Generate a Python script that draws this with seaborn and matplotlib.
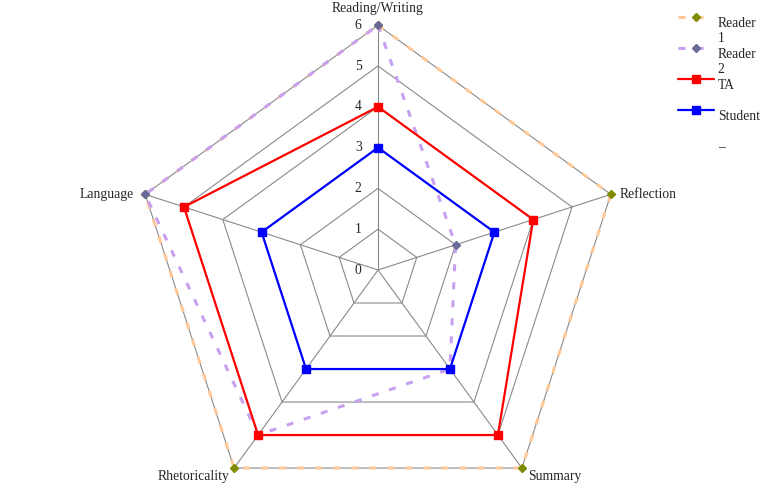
import numpy as np
import pandas as pd
import matplotlib
matplotlib.use("Agg")
import matplotlib.pyplot as plt
from matplotlib.lines import Line2D
from matplotlib.legend_handler import HandlerLine2D
import seaborn as sns

# --- data ---------------------------------------------------------------
axes_labels = ["Reading/Writing", "Reflection", "Summary", "Rhetoricality", "Language"]
ring_levels = [0, 1, 2, 3, 4, 5, 6]
reader1 = [6, 6, 6, 6, 6]
reader2 = [6, 2, 3, 5, 6]
ta = [4, 4, 5, 5, 5]
student = [3, 3, 3, 3, 3]
series_names = ["Reader\n1", "Reader\n2", "TA", "Student"]

sns.set_theme(style="white")
plt.rcParams["font.family"] = ["Liberation Serif", "DejaVu Serif"]
FS = 9.8

n = len(axes_labels)
theta = np.deg2rad(90 - 72 * np.arange(n))  # clockwise from top


def to_xy(vals):
    v = np.append(vals, vals[0])
    t = np.append(theta, theta[0])
    return pd.DataFrame({"x": v * np.cos(t), "y": v * np.sin(t)})


class ShiftedHandler(HandlerLine2D):
    """line handler drawn next to the first text line instead of the last"""
    def __init__(self, shift=0.0, **kw):
        super().__init__(**kw)
        self.shift = shift

    def create_artists(self, legend, orig_handle, xdescent, ydescent,
                       width, height, fontsize, trans):
        arts = super().create_artists(legend, orig_handle, xdescent, ydescent,
                                      width, height, fontsize, trans)
        for a in arts:
            a.set_ydata(np.asarray(a.get_ydata(), dtype=float) + self.shift)
        return arts


W, H = 764, 488
unit = 40.8
cx, cy = 378, 270
fig = plt.figure(figsize=(W / 100, H / 100), dpi=100)
ax = fig.add_axes([0, 0, 1, 1])
ax.set_xlim(-cx / unit, (W - cx) / unit)
ax.set_ylim(-(H - cy) / unit, cy / unit)
ax.axis("off")

grid_c = "#8a8a8a"
# pentagon grid + spokes
for lv in ring_levels[1:]:
    g = to_xy([lv] * n)
    ax.plot(g["x"], g["y"], color=grid_c, lw=0.8, zorder=1)
rmax = max(ring_levels)
for t in theta:
    ax.plot([0, rmax * np.cos(t)], [0, rmax * np.sin(t)], color=grid_c, lw=0.8, zorder=1)

for lv in ring_levels:
    ax.text(-0.4, lv, str(lv), ha="right", va="center", fontsize=FS)

# series
styles = [
    dict(data=reader1, color="#ffc898", lw=2.2, ls=(0, (2.3, 3.6)), marker="D", ms=4.2, mfc="#7f8c00", z=2),
    dict(data=reader2, color="#c8a0f0", lw=2.2, ls=(0, (2.3, 3.6)), marker="D", ms=4.2, mfc="#6a6a98", z=3),
    dict(data=ta, color="#ff0000", lw=1.6, ls="-", marker="s", ms=5.8, mfc="#ff0000", z=4),
    dict(data=student, color="#0000ff", lw=1.6, ls="-", marker="s", ms=5.8, mfc="#0000ff", z=5),
]
handles = []
for name, st in zip(series_names, styles):
    d = to_xy(st["data"])
    sns.lineplot(data=d, x="x", y="y", sort=False, estimator=None, ax=ax,
                 color=st["color"], linewidth=st["lw"], linestyle=st["ls"], zorder=st["z"])
    ax.plot(d["x"][:-1], d["y"][:-1], ls="none", marker=st["marker"], ms=st["ms"],
            mfc=st["mfc"], mec=st["mfc"], zorder=st["z"] + 0.5)
    handles.append(Line2D([], [], color=st["color"], lw=st["lw"], ls=st["ls"],
                          marker=st["marker"], ms=st["ms"], mfc=st["mfc"], mec=st["mfc"]))

# axis labels (offsets in points from the outer vertex)
lab_off = {
    "Reading/Writing": ((0, 12), "center", "center"),
    "Reflection": ((6.5, 0), "left", "center"),
    "Summary": ((4.5, -6), "left", "center"),
    "Rhetoricality": ((-3.5, -6), "right", "center"),
    "Language": ((-8, 0), "right", "center"),
}
for lab, t in zip(axes_labels, theta):
    off, ha, va = lab_off[lab]
    ax.annotate(lab, (rmax * np.cos(t), rmax * np.sin(t)), xytext=off,
                textcoords="offset points", ha=ha, va=va, fontsize=FS)

# legend: every entry gets two text lines so the rows have equal height
handles.append(Line2D([], [], color="none"))
labels = [s if "\n" in s else s + "\n " for s in series_names] + ["\u2013\n "]
hmap = {h: ShiftedHandler(shift=10.2) for h in handles}
fig.legend(handles, labels, loc="upper left", handler_map=hmap,
           bbox_to_anchor=(667 / W, 1.0 - 6.5 / H), frameon=False, fontsize=FS,
           handlelength=2.65, handletextpad=0.28,
           labelspacing=0.22, borderpad=0.3)

fig.savefig("out.png", dpi=100)
